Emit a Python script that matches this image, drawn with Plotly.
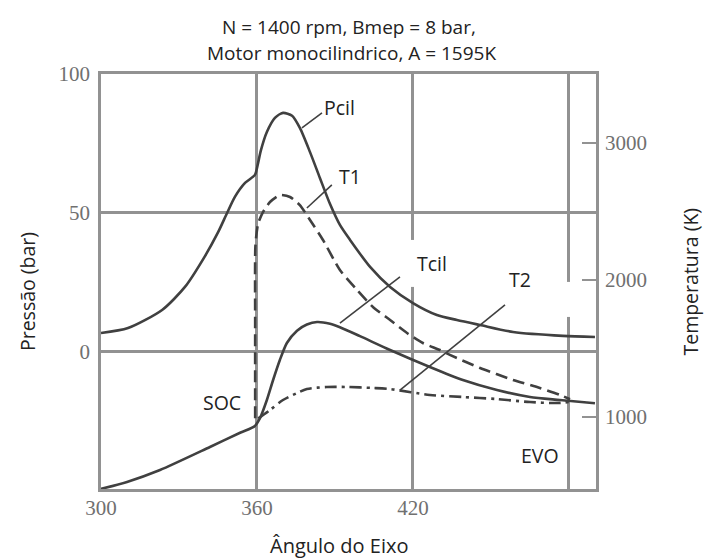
import plotly.graph_objects as go

# Crank angle (deg) and cylinder pressure (bar)
pcil_angle = [300, 310.4, 323.5, 332.3, 340, 345, 348.5, 351.5, 355.4, 359.2, 360.3, 361.5, 363.8,
              366.9, 370, 373.5, 376.5, 380.4, 384.2, 388.1, 391.9, 395.8, 403.5, 411.2, 420,
              429.2, 436.9, 445.8, 458.5, 477.7, 490]
pcil_bar = [6.8, 8.6, 15.1, 23.4, 34.5, 43.0, 50, 55.8, 60.8, 63.7, 67.5, 72.5, 79.1,
            84.2, 86, 85.0, 80.6, 71.9, 62.6, 53.2, 45.7, 40.3, 30.6, 23.4, 17.6,
            13.3, 11.5, 9.7, 7.2, 5.8, 5.4]

# Mean cylinder temperature (K)
tcil_angle = [300, 310, 322.7, 341.9, 353.5, 359.2, 361.2, 363.8, 366.2, 368.8, 371.5, 375.4,
              379.2, 383.1, 388.1, 391.9, 399.6, 411.2, 426.5, 439.2, 452.3, 465, 476.5, 490]
tcil_K = [475, 526, 613, 781, 885, 935, 993, 1124, 1270, 1416, 1540, 1630,
          1675, 1693, 1680, 1655, 1590, 1489, 1365, 1270, 1197, 1146, 1124, 1100]

# Burned-zone temperature T1 (K)
t1_angle = [359.3, 359.3, 359.4, 360.4, 362.3, 365, 368.8, 372.7, 376.5, 380.4, 385.4, 391.9,
            398.5, 404.6, 411.2, 417.7, 423.8, 430.4, 434.2, 445.8, 458.5, 468.8, 476.5, 480.4]
t1_K = [990, 1700, 2250, 2410, 2496, 2569, 2620, 2606, 2547, 2438, 2292, 2073,
        1927, 1803, 1708, 1613, 1540, 1489, 1453, 1358, 1270, 1212, 1161, 1130]

# Unburned-zone temperature T2 (K)
t2_angle = [360.5, 365, 370, 375.4, 379.2, 386.9, 394.6, 404.6, 411.2, 426.5, 439.2, 452.3,
            465, 475.4, 480.4]
t2_K = [990, 1051, 1124, 1175, 1204, 1219, 1219, 1212, 1204, 1161, 1146, 1131,
        1109, 1102, 1110]

x_ticks = [300, 360, 420, 480]
x_ticktext = ["300", "360", "420", ""]
p_ticks = [0, 50, 100]
t_ticks = [1000, 2000, 3000]

CURVE = "#404040"
GRID = "#929292"
TEXT = "#222222"
SANS = "Open Sans"
SERIF = "Liberation Serif"

fig = go.Figure()
fig.add_trace(go.Scatter(x=pcil_angle, y=pcil_bar, mode="lines", yaxis="y",
                         line=dict(color=CURVE, width=2.6, shape="spline", smoothing=0.7)))
fig.add_trace(go.Scatter(x=tcil_angle, y=tcil_K, mode="lines", yaxis="y2",
                         line=dict(color=CURVE, width=2.6, shape="spline", smoothing=0.7)))
fig.add_trace(go.Scatter(x=t1_angle, y=t1_K, mode="lines", yaxis="y2",
                         line=dict(color=CURVE, width=2.6, shape="spline", smoothing=0.6,
                                   dash="12px,6px")))
fig.add_trace(go.Scatter(x=t2_angle, y=t2_K, mode="lines", yaxis="y2",
                         line=dict(color=CURVE, width=2.6, shape="spline", smoothing=0.8,
                                   dash="12px,5px,3px,5px")))

# Leader lines from labels to their curves (x in deg, y in bar)
leaders = [
    (377.3, 80.6, 385.0, 86.0),
    (379.2, 51.8, 388.8, 60.1),
    (391.9, 10.4, 415.0, 27.0),
    (415.0, -13.7, 455.4, 16.9),
]
shapes = [dict(type="line", xref="x", yref="y", x0=a, y0=b, x1=c, y1=d,
               line=dict(color=CURVE, width=1.6), layer="above")
          for a, b, c, d in leaders]
# Breaks in the 420 and 480 grid lines
for xc, ylo, yhi in [(420, 23.4, 40.3), (480, 12.6, 25.2)]:
    shapes.append(dict(type="rect", xref="x", yref="y", x0=xc - 1.5, x1=xc + 1.5,
                       y0=ylo, y1=yhi, fillcolor="white", line=dict(width=0),
                       layer="between"))

labels = [
    ("Pcil", 391.9, 87.8),
    ("T1", 395.8, 63.3),
    ("Tcil", 427.3, 32.0),
    ("T2", 461.2, 25.9),
    ("SOC", 346.5, -18.3),
    ("EVO", 468.8, -37.4),
]
annotations = [dict(text=t, x=x, y=y, xref="x", yref="y", showarrow=False,
                    font=dict(family=SANS, size=19.5, color=TEXT))
               for t, x, y in labels]

# Title lines, axis titles (paper coordinates)
annotations += [
    dict(text="N = 1400 rpm, Bmep = 8 bar,", x=0.5, y=(489 - 27) / 415,
         xref="paper", yref="paper", showarrow=False, xanchor="center", yanchor="middle",
         font=dict(family=SANS, size=19, color=TEXT)),
    dict(text="Motor monocilindrico, A = 1595K", x=0.507, y=(489 - 53) / 415,
         xref="paper", yref="paper", showarrow=False, xanchor="center", yanchor="middle",
         font=dict(family=SANS, size=19, color=TEXT)),
    dict(text="Ângulo do Eixo", x=0.481, y=-0.135, xref="paper", yref="paper",
         showarrow=False, xanchor="center", yanchor="middle",
         font=dict(family=SANS, size=20, color=TEXT)),
    dict(text="Pressão (bar)", x=-0.1495, y=0.477, xref="paper", yref="paper",
         showarrow=False, textangle=-90, xanchor="center", yanchor="middle",
         font=dict(family=SANS, size=19.5, color=TEXT)),
    dict(text="Temperatura (K)", x=1.19, y=0.50, xref="paper", yref="paper",
         showarrow=False, textangle=-90, xanchor="center", yanchor="middle",
         font=dict(family=SANS, size=19.5, color=TEXT)),
]

tickfont = dict(family=SERIF, size=21, color="#707070")

fig.update_layout(
    width=705, height=559,
    margin=dict(l=101, r=109, t=74, b=70),
    paper_bgcolor="white", plot_bgcolor="white",
    showlegend=False,
    xaxis=dict(range=[300, 490.4], tickvals=x_ticks, ticktext=x_ticktext,
               showgrid=True, gridcolor=GRID, gridwidth=2.5, zeroline=False,
               showline=True, linecolor=GRID, linewidth=2.5, mirror=True,
               ticks="", tickfont=tickfont, ticklabelstandoff=-2),
    yaxis=dict(range=[-49.3, 100], tickvals=p_ticks,
               showgrid=True, gridcolor=GRID, gridwidth=2.5, zeroline=False,
               showline=True, linecolor=GRID, linewidth=2.5, mirror=True,
               ticks="", tickfont=tickfont, ticklabelstandoff=4),
    yaxis2=dict(range=[474.5, 3503.6], tickvals=t_ticks, overlaying="y", side="right",
                showgrid=False, zeroline=False, showline=False,
                ticks="inside", ticklen=14, tickwidth=2, tickcolor=GRID,
                tickfont=tickfont, ticklabelstandoff=8),
    shapes=shapes,
    annotations=annotations,
)

fig.write_html("out.html")
